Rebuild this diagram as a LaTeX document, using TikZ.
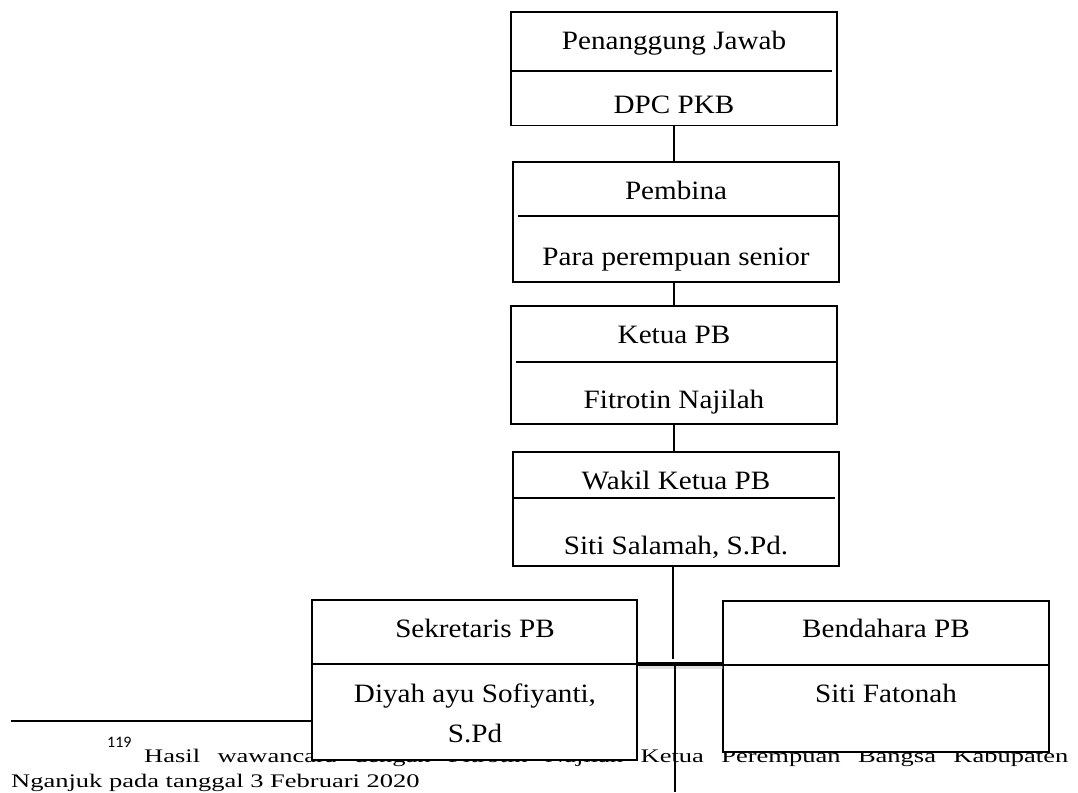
\documentclass[tikz,border=0pt]{standalone}
\usepackage{fontspec}
\setmainfont{Liberation Serif}
\newfontfamily\boxfont[FakeStretch=1.1]{Liberation Serif}
\newfontfamily\footfont[FakeStretch=1.38]{Liberation Serif}
\newfontfamily\supfont{Carlito}
\begin{document}
\begin{tikzpicture}[x=1pt,y=-1pt,
  box/.style={draw=black, line width=1.1pt, fill=white, inner sep=0pt, outer sep=0pt},
  divider/.style={draw=black, line width=1.7pt},
  lbl/.style={font=\boxfont\fontsize{26.5}{30}\selectfont, anchor=base, inner sep=0pt},
  conn/.style={draw=black, line width=1.1pt},
  junction/.style={draw=black, line width=4pt},
  jshadow/.style={draw=black!25, line width=4pt, opacity=0.5},
  foot/.style={font=\footfont\fontsize{19.2}{22}\selectfont, anchor=base west, inner sep=0pt},
  supnum/.style={font=\supfont\fontsize{16}{18}\selectfont, anchor=base west, inner sep=0pt}]
\useasboundingbox (0,0) rectangle (1078,792);

% footnote (drawn first, partly covered by the boxes)
\coordinate (fnL) at (11,721);
\coordinate (fnR) at (363,721);
\draw[line width=1.4pt] (fnL) -- (fnR);
\node[supnum] (sup) at (107,747) {119};
\node[foot] (fn1) at (144,762) {\makebox[924pt][s]{Hasil wawancara dengan Fitrotin Najilah Ketua Perempuan Bangsa Kabupaten}};
\node[foot] (fn2) at (11,787) {Nganjuk pada tanggal 3 Februari 2020};

% boxes
\node[box, minimum width=326pt, minimum height=113.5pt] (b1) at (674,68.75) {};
\node[box, minimum width=326pt, minimum height=120pt] (b2) at (676,222) {};
\node[box, minimum width=326pt, minimum height=118pt] (b3) at (674,365) {};
\node[box, minimum width=326pt, minimum height=114pt] (b4) at (676,509) {};
\node[box, minimum width=325pt, minimum height=160pt] (sek) at (474.5,680) {};
\node[box, minimum width=326pt, minimum height=151pt] (ben) at (886,676.5) {};

% dividers
\draw[divider] (b1.west |- 0,71) -- (832,71);
\draw[divider] (518,216) -- (b2.east |- 0,216);
\draw[divider] (516,362) -- (b3.east |- 0,362);
\draw[divider] (b4.west |- 0,498) -- (835,498);
\draw[divider] (sek.west |- 0,664) -- (sek.east |- 0,664);
\draw[divider] (ben.west |- 0,665) -- (ben.east |- 0,665);

% labels
\node[lbl] (t1a) at (674,50) {Penanggung Jawab};
\node[lbl] (t1b) at (674,113) {DPC PKB};
\node[lbl] (t2a) at (676,199) {Pembina};
\node[lbl] (t2b) at (676,265) {Para perempuan senior};
\node[lbl] (t3a) at (674,343) {Ketua PB};
\node[lbl] (t3b) at (674,408) {Fitrotin Najilah};
\node[lbl] (t4a) at (676,489) {Wakil Ketua PB};
\node[lbl] (t4b) at (676,554) {Siti Salamah, S.Pd.};
\node[lbl] (t5a) at (475,637) {Sekretaris PB};
\node[lbl] (t5b) at (475,702) {Diyah ayu Sofiyanti,};
\node[lbl] (t5c) at (475,742) {S.Pd};
\node[lbl] (t6a) at (886,637) {Bendahara PB};
\node[lbl] (t6b) at (886,702) {Siti Fatonah};

% connectors
\coordinate (jt) at (673,659);
\coordinate (jh) at (679,664);
\coordinate (jb) at (675,666);
\coordinate (jend) at (675,792);
\draw[conn] (b1.south) -- (b1.south |- b2.north);
\draw[conn] (b3.north) -- (b3.north |- b2.south);
\draw[conn] (b3.south) -- (b3.south |- b4.north);
\draw[conn] (b4.south -| jt) -- (jt);
\draw[jshadow] ([yshift=-3pt,xshift=2pt]sek.east |- jh) -- ([yshift=-3pt]ben.west |- jh);
\draw[junction] (sek.east |- jh) -- (ben.west |- jh);
\draw[conn] (jb) -- (jend);
\end{tikzpicture}
\end{document}
